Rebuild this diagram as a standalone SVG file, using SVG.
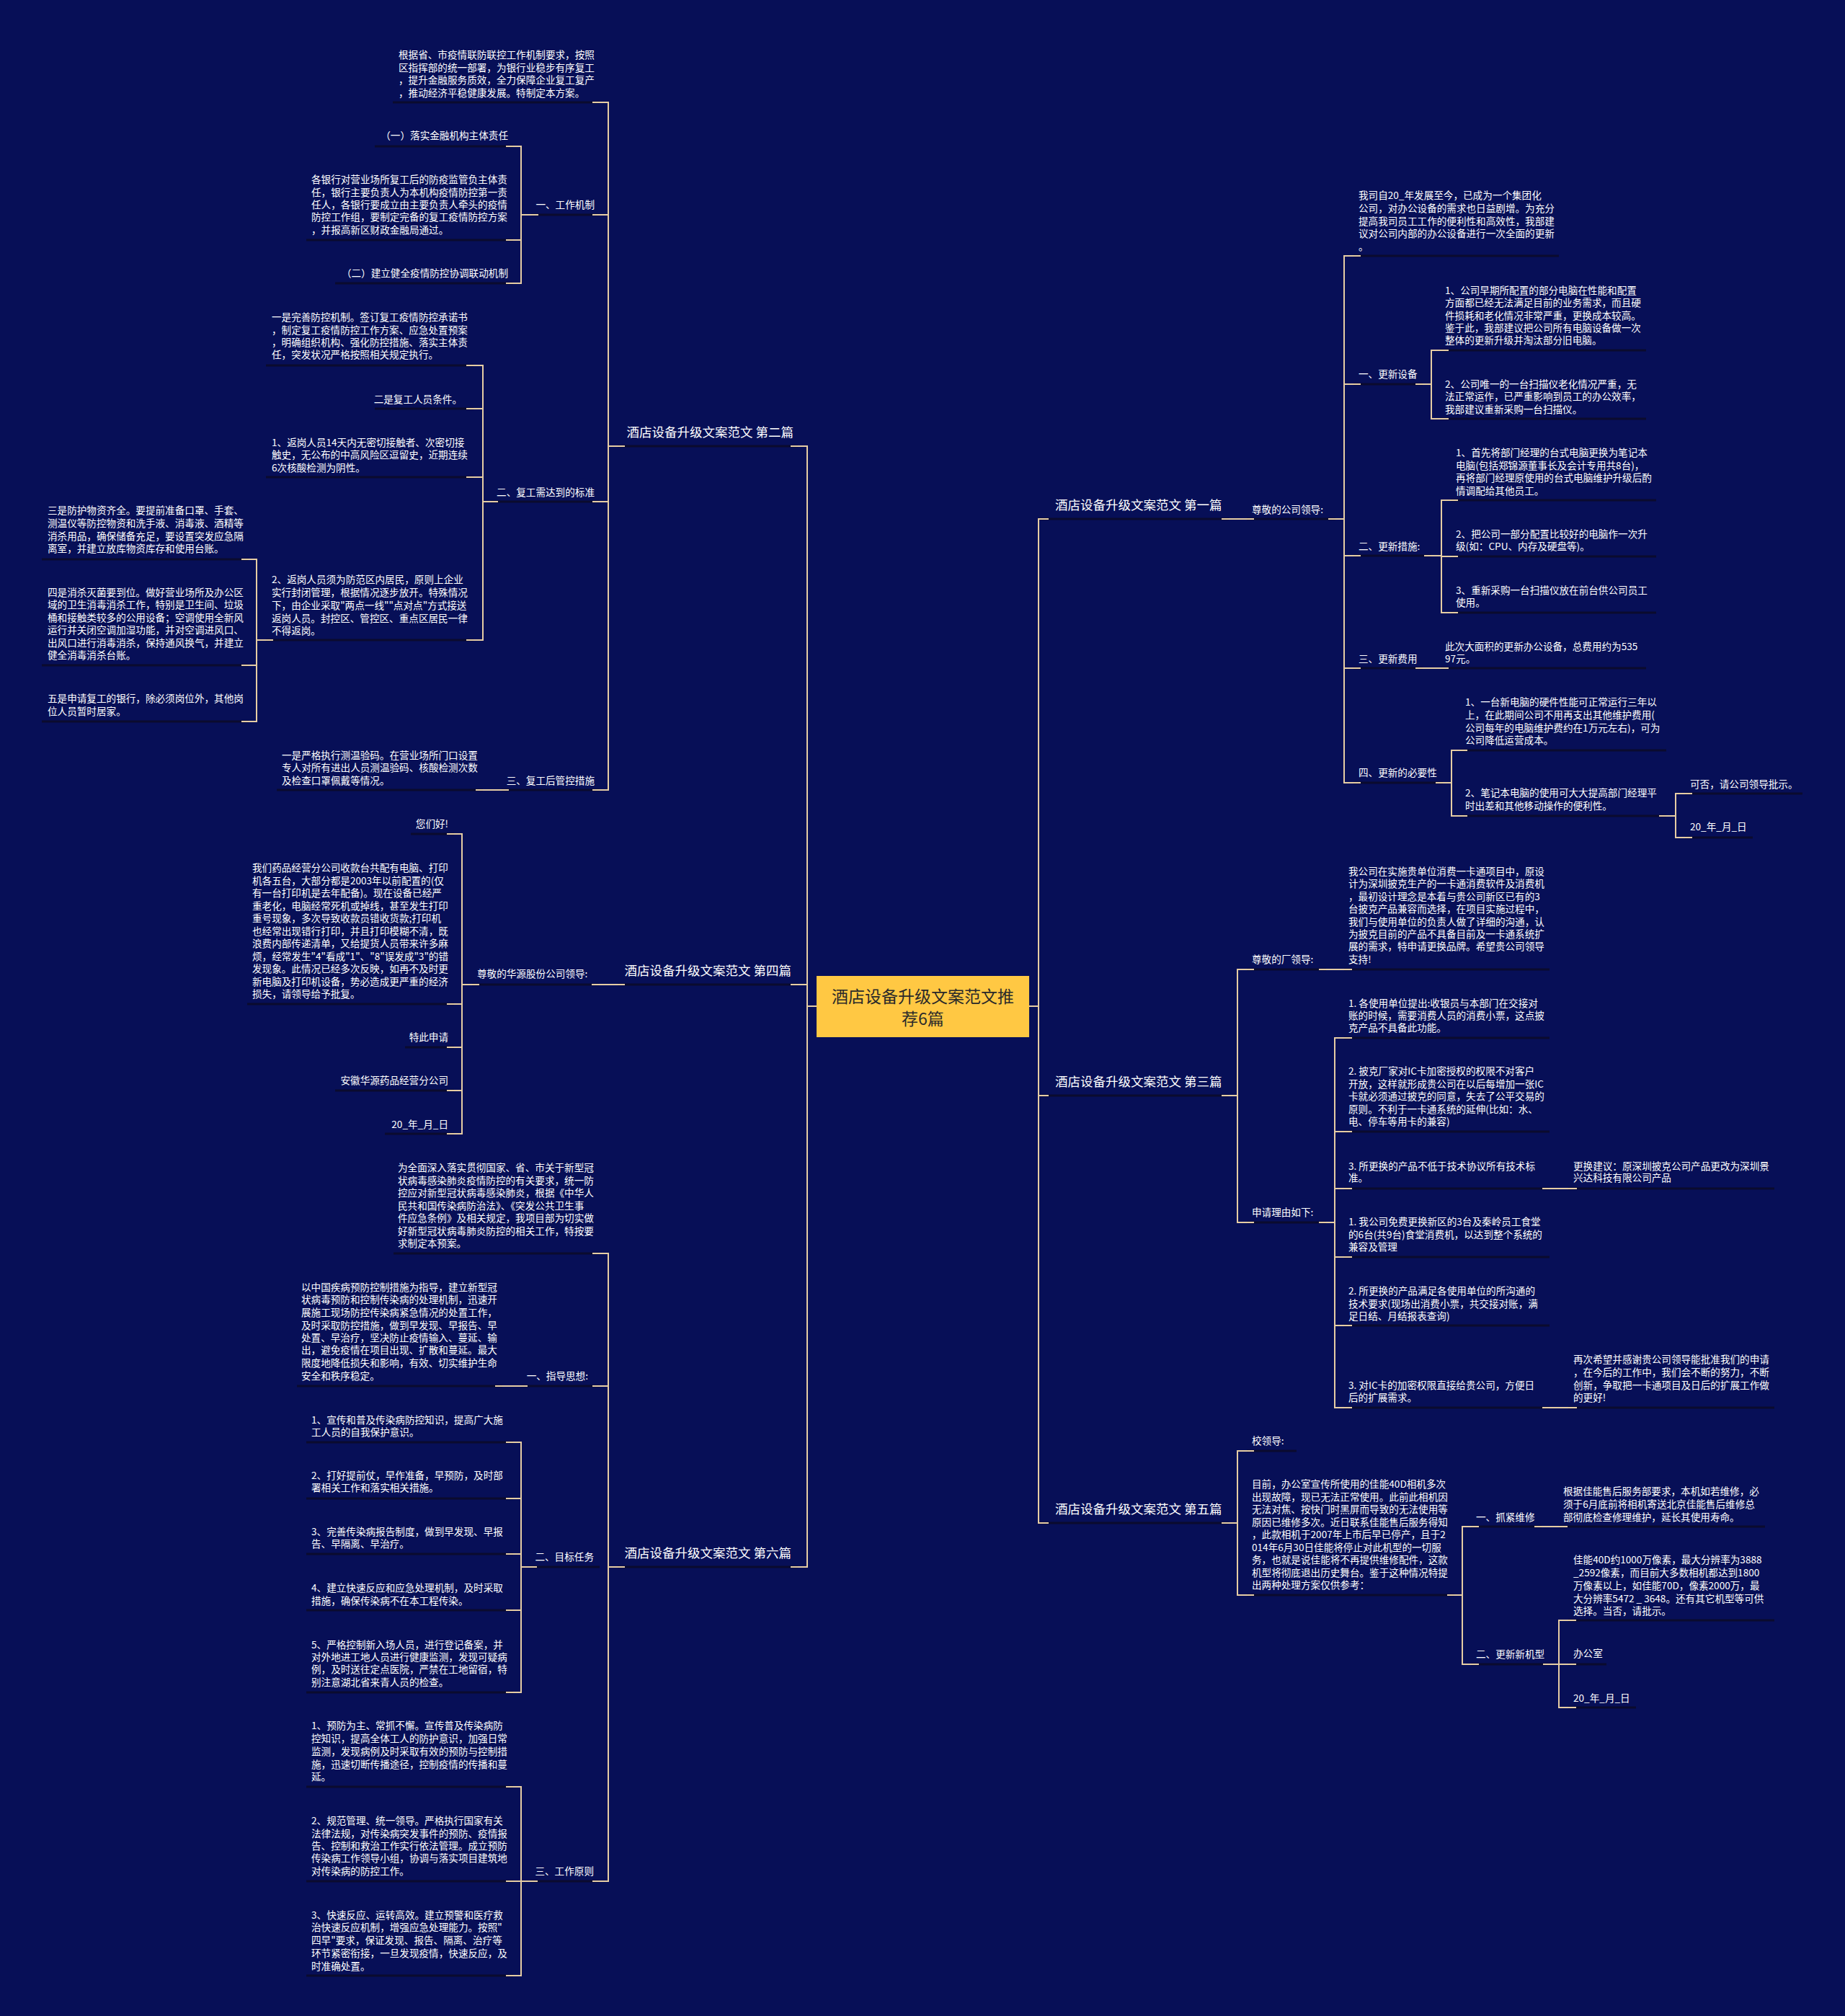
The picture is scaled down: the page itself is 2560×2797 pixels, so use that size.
<svg xmlns="http://www.w3.org/2000/svg" width="2560" height="2797" viewBox="0 0 2560 2797">
<style>
.t{font-family:"Noto Sans CJK SC","Noto Sans",sans-serif;font-size:13.6px;fill:#ffffff;dominant-baseline:central}
.e{text-anchor:end}
.h{font-size:17.5px}
.u{stroke:#0b0b2e;stroke-width:3}
.c{stroke:#e6cda4;stroke-width:2;fill:none}
.ct{font-family:"Noto Sans CJK SC","Noto Sans",sans-serif;font-size:23px;fill:#2a2a2a;text-anchor:middle;dominant-baseline:central}
</style>
<rect width="2560" height="2797" fill="#070f57"/>

<g id="root">
<rect x="1133" y="1354" width="295" height="85" fill="#ffc843"/>
<text class="ct"><tspan x="1280.5" y="1381">酒店设备升级文案范文推</tspan><tspan x="1280.5" y="1412">荐6篇</tspan></text>
</g>

<!-- RIGHT: 第一篇 -->
<g id="r1"><text class="t h" x="1464" y="699">酒店设备升级文案范文 第一篇</text><line class="u" x1="1441" y1="720" x2="1705" y2="720"/></g>
<g id="r1a"><text class="t" x="1737" y="706">尊敬的公司领导:</text><line class="u" x1="1730" y1="720" x2="1853" y2="720"/></g>
<g id="r1a1"><text class="t"><tspan x="1885" y="270">我司自20_年发展至今，已成为一个集团化</tspan><tspan x="1885" y="288">公司，对办公设备的需求也日益剧增。为充分</tspan><tspan x="1885" y="306">提高我司员工工作的便利性和高效性，我部建</tspan><tspan x="1885" y="323">议对公司内部的办公设备进行一次全面的更新</tspan><tspan x="1885" y="341">。</tspan></text><line class="u" x1="1878" y1="355" x2="2163" y2="355"/></g>
<g id="r1a2"><text class="t" x="1885" y="518">一、更新设备</text><line class="u" x1="1878" y1="533" x2="1974" y2="533"/></g>
<g id="r1a2a"><text class="t"><tspan x="2005" y="402">1、公司早期所配置的部分电脑在性能和配置</tspan><tspan x="2005" y="419">方面都已经无法满足目前的业务需求，而且硬</tspan><tspan x="2005" y="437">件损耗和老化情况非常严重，更换成本较高。</tspan><tspan x="2005" y="454">鉴于此，我部建议把公司所有电脑设备做一次</tspan><tspan x="2005" y="471">整体的更新升级并淘汰部分旧电脑。</tspan></text><line class="u" x1="1998" y1="486" x2="2284" y2="486"/></g>
<g id="r1a2b"><text class="t"><tspan x="2005" y="532">2、公司唯一的一台扫描仪老化情况严重，无</tspan><tspan x="2005" y="549">法正常运作，已严重影响到员工的办公效率，</tspan><tspan x="2005" y="567">我部建议重新采购一台扫描仪。</tspan></text><line class="u" x1="1998" y1="581" x2="2284" y2="581"/></g>
<g id="r1a3"><text class="t" x="1885" y="757">二、更新措施:</text><line class="u" x1="1878" y1="771" x2="1986" y2="771"/></g>
<g id="r1a3a"><text class="t"><tspan x="2020" y="627">1、首先将部门经理的台式电脑更换为笔记本</tspan><tspan x="2020" y="645">电脑(包括郑锦源董事长及会计专用共8台)，</tspan><tspan x="2020" y="662">再将部门经理原使用的台式电脑维护升级后酌</tspan><tspan x="2020" y="680">情调配给其他员工。</tspan></text><line class="u" x1="2013" y1="694" x2="2298" y2="694"/></g>
<g id="r1a3b"><text class="t"><tspan x="2020" y="740">2、把公司一部分配置比较好的电脑作一次升</tspan><tspan x="2020" y="757">级(如：CPU、内存及硬盘等)。</tspan></text><line class="u" x1="2013" y1="772" x2="2298" y2="772"/></g>
<g id="r1a3c"><text class="t"><tspan x="2020" y="818">3、重新采购一台扫描仪放在前台供公司员工</tspan><tspan x="2020" y="835">使用。</tspan></text><line class="u" x1="2013" y1="850" x2="2298" y2="850"/></g>
<g id="r1a4"><text class="t" x="1885" y="913">三、更新费用</text><line class="u" x1="1878" y1="927" x2="1974" y2="927"/></g>
<g id="r1a4a"><text class="t"><tspan x="2005" y="896">此次大面积的更新办公设备，总费用约为535</tspan><tspan x="2005" y="913">97元。</tspan></text><line class="u" x1="1999" y1="927" x2="2284" y2="927"/></g>
<g id="r1a5"><text class="t" x="1885" y="1071">四、更新的必要性</text><line class="u" x1="1878" y1="1086" x2="2002" y2="1086"/></g>
<g id="r1a5a"><text class="t"><tspan x="2033" y="973">1、一台新电脑的硬件性能可正常运行三年以</tspan><tspan x="2033" y="991">上，在此期间公司不用再支出其他维护费用(</tspan><tspan x="2033" y="1009">公司每年的电脑维护费约在1万元左右)，可为</tspan><tspan x="2033" y="1026">公司降低运营成本。</tspan></text><line class="u" x1="2026" y1="1041" x2="2312" y2="1041"/></g>
<g id="r1a5b"><text class="t"><tspan x="2033" y="1099">2、笔记本电脑的使用可大大提高部门经理平</tspan><tspan x="2033" y="1117">时出差和其他移动操作的便利性。</tspan></text><line class="u" x1="2026" y1="1132" x2="2312" y2="1132"/></g>
<g id="r1a5b1"><text class="t" x="2345" y="1087">可否，请公司领导批示。</text><line class="u" x1="2338" y1="1101" x2="2501" y2="1101"/></g>
<g id="r1a5b2"><text class="t" x="2345" y="1146">20_年_月_日</text><line class="u" x1="2338" y1="1162" x2="2432" y2="1162"/></g>

<!-- RIGHT: 第三篇 -->
<g id="r3"><text class="t h" x="1464" y="1499">酒店设备升级文案范文 第三篇</text><line class="u" x1="1441" y1="1520" x2="1705" y2="1520"/></g>
<g id="r3a"><text class="t" x="1737" y="1330">尊敬的厂领导:</text><line class="u" x1="1730" y1="1345" x2="1840" y2="1345"/></g>
<g id="r3a1"><text class="t"><tspan x="1871" y="1208">我公司在实施贵单位消费一卡通项目中，原设</tspan><tspan x="1871" y="1225">计为深圳披克生产的一卡通消费软件及消费机</tspan><tspan x="1871" y="1243">，最初设计理念是本着与贵公司新区已有的3</tspan><tspan x="1871" y="1260">台披克产品兼容而选择，在项目实施过程中，</tspan><tspan x="1871" y="1278">我们与使用单位的负责人做了详细的沟通，认</tspan><tspan x="1871" y="1295">为披克目前的产品不具备目前及一卡通系统扩</tspan><tspan x="1871" y="1312">展的需求，特申请更换品牌。希望贵公司领导</tspan><tspan x="1871" y="1330">支持!</tspan></text><line class="u" x1="1865" y1="1345" x2="2150" y2="1345"/></g>
<g id="r3b"><text class="t" x="1737" y="1681">申请理由如下:</text><line class="u" x1="1730" y1="1696" x2="1840" y2="1696"/></g>
<g id="r3b1"><text class="t"><tspan x="1871" y="1391">1. 各使用单位提出:收银员与本部门在交接对</tspan><tspan x="1871" y="1408">账的时候，需要消费人员的消费小票，这点披</tspan><tspan x="1871" y="1425">克产品不具备此功能。</tspan></text><line class="u" x1="1865" y1="1440" x2="2150" y2="1440"/></g>
<g id="r3b2"><text class="t"><tspan x="1871" y="1485">2. 披克厂家对IC卡加密授权的权限不对客户</tspan><tspan x="1871" y="1503">开放，这样就形成贵公司在以后每增加一张IC</tspan><tspan x="1871" y="1520">卡就必须通过披克的同意，失去了公平交易的</tspan><tspan x="1871" y="1538">原则。不利于一卡通系统的延伸(比如：水、</tspan><tspan x="1871" y="1555">电、停车等用卡的兼容)</tspan></text><line class="u" x1="1865" y1="1570" x2="2150" y2="1570"/></g>
<g id="r3b3"><text class="t"><tspan x="1871" y="1617">3. 所更换的产品不低于技术协议所有技术标</tspan><tspan x="1871" y="1633">准。</tspan></text><line class="u" x1="1865" y1="1649" x2="2150" y2="1649"/></g>
<g id="r3b3a"><text class="t"><tspan x="2183" y="1617">更换建议：原深圳披克公司产品更改为深圳景</tspan><tspan x="2183" y="1633">兴达科技有限公司产品</tspan></text><line class="u" x1="2176" y1="1649" x2="2462" y2="1649"/></g>
<g id="r3b4"><text class="t"><tspan x="1871" y="1694">1. 我公司免费更换新区的3台及秦岭员工食堂</tspan><tspan x="1871" y="1712">的6台(共9台)食堂消费机，以达到整个系统的</tspan><tspan x="1871" y="1729">兼容及管理</tspan></text><line class="u" x1="1865" y1="1744" x2="2150" y2="1744"/></g>
<g id="r3b5"><text class="t"><tspan x="1871" y="1790">2. 所更换的产品满足各使用单位的所沟通的</tspan><tspan x="1871" y="1808">技术要求(现场出消费小票，共交接对账，满</tspan><tspan x="1871" y="1825">足日结、月结报表查询)</tspan></text><line class="u" x1="1865" y1="1839" x2="2150" y2="1839"/></g>
<g id="r3b6"><text class="t"><tspan x="1871" y="1921">3. 对IC卡的加密权限直接给贵公司，方便日</tspan><tspan x="1871" y="1938">后的扩展需求。</tspan></text><line class="u" x1="1865" y1="1953" x2="2150" y2="1953"/></g>
<g id="r3b6a"><text class="t"><tspan x="2183" y="1885">再次希望并感谢贵公司领导能批准我们的申请</tspan><tspan x="2183" y="1903">，在今后的工作中，我们会不断的努力，不断</tspan><tspan x="2183" y="1921">创新，争取把一卡通项目及日后的扩展工作做</tspan><tspan x="2183" y="1938">的更好!</tspan></text><line class="u" x1="2176" y1="1953" x2="2462" y2="1953"/></g>

<!-- RIGHT: 第五篇 -->
<g id="r5"><text class="t h" x="1464" y="2092">酒店设备升级文案范文 第五篇</text><line class="u" x1="1441" y1="2113" x2="1705" y2="2113"/></g>
<g id="r5a"><text class="t" x="1737" y="1998">校领导:</text><line class="u" x1="1730" y1="2013" x2="1799" y2="2013"/></g>
<g id="r5b"><text class="t"><tspan x="1737" y="2058">目前，办公室宣传所使用的佳能40D相机多次</tspan><tspan x="1737" y="2076">出现故障，现已无法正常使用。此前此相机因</tspan><tspan x="1737" y="2093">无法对焦、按快门时黑屏而导致的无法使用等</tspan><tspan x="1737" y="2111">原因已维修多次。近日联系佳能售后服务得知</tspan><tspan x="1737" y="2128">，此款相机于2007年上市后早已停产，且于2</tspan><tspan x="1737" y="2146">014年6月30日佳能将停止对此机型的一切服</tspan><tspan x="1737" y="2163">务，也就是说佳能将不再提供维修配件，这款</tspan><tspan x="1737" y="2181">机型将彻底退出历史舞台。鉴于这种情况特提</tspan><tspan x="1737" y="2198">出两种处理方案仅供参考：</tspan></text><line class="u" x1="1730" y1="2213" x2="2018" y2="2213"/></g>
<g id="r5b1"><text class="t" x="2048" y="2104">一、抓紧维修</text><line class="u" x1="2041" y1="2118" x2="2139" y2="2118"/></g>
<g id="r5b1a"><text class="t"><tspan x="2169" y="2068">根据佳能售后服务部要求，本机如若维修，必</tspan><tspan x="2169" y="2086">须于6月底前将相机寄送北京佳能售后维修总</tspan><tspan x="2169" y="2104">部彻底检查修理维护，延长其使用寿命。</tspan></text><line class="u" x1="2163" y1="2118" x2="2449" y2="2118"/></g>
<g id="r5b2"><text class="t" x="2048" y="2294">二、更新新机型</text><line class="u" x1="2041" y1="2309" x2="2151" y2="2309"/></g>
<g id="r5b2a"><text class="t"><tspan x="2183" y="2163">佳能40D约1000万像素，最大分辨率为3888</tspan><tspan x="2183" y="2181">_2592像素，而目前大多数相机都达到1800</tspan><tspan x="2183" y="2199">万像素以上，如佳能70D，像素2000万，最</tspan><tspan x="2183" y="2217">大分辨率5472 _ 3648。还有其它机型等可供</tspan><tspan x="2183" y="2234">选择。当否，请批示。</tspan></text><line class="u" x1="2176" y1="2248" x2="2462" y2="2248"/></g>
<g id="r5b2b"><text class="t" x="2183" y="2293">办公室</text><line class="u" x1="2176" y1="2309" x2="2229" y2="2309"/></g>
<g id="r5b2c"><text class="t" x="2183" y="2355">20_年_月_日</text><line class="u" x1="2176" y1="2369" x2="2270" y2="2369"/></g>

<!-- LEFT: 第二篇 -->
<g id="l2"><text class="t h e" x="1101" y="598">酒店设备升级文案范文 第二篇</text><line class="u" x1="857" y1="619" x2="1107" y2="619"/></g>
<g id="l2a"><text class="t"><tspan x="553" y="75">根据省、市疫情联防联控工作机制要求，按照</tspan><tspan x="553" y="93">区指挥部的统一部署，为银行业稳步有序复工</tspan><tspan x="553" y="110">，提升金融服务质效，全力保障企业复工复产</tspan><tspan x="553" y="128">，推动经济平稳健康发展。特制定本方案。</tspan></text><line class="u" x1="545" y1="142" x2="832" y2="142"/></g>
<g id="l2b"><text class="t e" x="825" y="283">一、工作机制</text><line class="u" x1="737" y1="298" x2="832" y2="298"/></g>
<g id="l2b1"><text class="t e" x="705" y="187">（一）落实金融机构主体责任</text><line class="u" x1="520" y1="203" x2="712" y2="203"/></g>
<g id="l2b2"><text class="t"><tspan x="432" y="248">各银行对营业场所复工后的防疫监管负主体责</tspan><tspan x="432" y="266">任，银行主要负责人为本机构疫情防控第一责</tspan><tspan x="432" y="283">任人，各银行要成立由主要负责人牵头的疫情</tspan><tspan x="432" y="300">防控工作组，要制定完备的复工疫情防控方案</tspan><tspan x="432" y="318">，并报高新区财政金融局通过。</tspan></text><line class="u" x1="425" y1="333" x2="712" y2="333"/></g>
<g id="l2b3"><text class="t e" x="705" y="378">（二）建立健全疫情防控协调联动机制</text><line class="u" x1="465" y1="393" x2="712" y2="393"/></g>
<g id="l2c"><text class="t e" x="825" y="682">二、复工需达到的标准</text><line class="u" x1="681" y1="696" x2="832" y2="696"/></g>
<g id="l2c1"><text class="t"><tspan x="377" y="439">一是完善防控机制。签订复工疫情防控承诺书</tspan><tspan x="377" y="457">，制定复工疫情防控工作方案、应急处置预案</tspan><tspan x="377" y="474">，明确组织机构、强化防控措施、落实主体责</tspan><tspan x="377" y="491">任，突发状况严格按照相关规定执行。</tspan></text><line class="u" x1="369" y1="507" x2="657" y2="507"/></g>
<g id="l2c2"><text class="t e" x="641" y="553">二是复工人员条件。</text><line class="u" x1="520" y1="567" x2="657" y2="567"/></g>
<g id="l2c3"><text class="t"><tspan x="377" y="613">1、返岗人员14天内无密切接触者、次密切接</tspan><tspan x="377" y="630">触史，无公布的中高风险区逗留史，近期连续</tspan><tspan x="377" y="648">6次核酸检测为阴性。</tspan></text><line class="u" x1="369" y1="662" x2="657" y2="662"/></g>
<g id="l2c4"><text class="t"><tspan x="377" y="803">2、返岗人员须为防范区内居民，原则上企业</tspan><tspan x="377" y="821">实行封闭管理，根据情况逐步放开。特殊情况</tspan><tspan x="377" y="839">下，由企业采取"两点一线""点对点"方式接送</tspan><tspan x="377" y="857">返岗人员。封控区、管控区、重点区居民一律</tspan><tspan x="377" y="874">不得返岗。</tspan></text><line class="u" x1="369" y1="888" x2="657" y2="888"/></g>
<g id="l2c4a"><text class="t"><tspan x="66" y="707">三是防护物资齐全。要提前准备口罩、手套、</tspan><tspan x="66" y="725">测温仪等防控物资和洗手液、消毒液、酒精等</tspan><tspan x="66" y="743">消杀用品，确保储备充足，要设置突发应急隔</tspan><tspan x="66" y="760">离室，并建立放库物资库存和使用台账。</tspan></text><line class="u" x1="58" y1="776" x2="345" y2="776"/></g>
<g id="l2c4b"><text class="t"><tspan x="66" y="821">四是消杀灭菌要到位。做好营业场所及办公区</tspan><tspan x="66" y="838">域的卫生消毒消杀工作，特别是卫生间、垃圾</tspan><tspan x="66" y="856">桶和接触类较多的公用设备；空调使用全新风</tspan><tspan x="66" y="873">运行并关闭空调加湿功能，并对空调进风口、</tspan><tspan x="66" y="891">出风口进行消毒消杀，保持通风换气，并建立</tspan><tspan x="66" y="908">健全消毒消杀台账。</tspan></text><line class="u" x1="58" y1="923" x2="345" y2="923"/></g>
<g id="l2c4c"><text class="t"><tspan x="66" y="968">五是申请复工的银行，除必须岗位外，其他岗</tspan><tspan x="66" y="986">位人员暂时居家。</tspan></text><line class="u" x1="58" y1="1001" x2="345" y2="1001"/></g>
<g id="l2d"><text class="t e" x="825" y="1082">三、复工后管控措施</text><line class="u" x1="696" y1="1096" x2="832" y2="1096"/></g>
<g id="l2d1"><text class="t"><tspan x="391" y="1047">一是严格执行测温验码。在营业场所门口设置</tspan><tspan x="391" y="1064">专人对所有进出人员测温验码、核酸检测次数</tspan><tspan x="391" y="1082">及检查口罩佩戴等情况。</tspan></text><line class="u" x1="384" y1="1096" x2="670" y2="1096"/></g>

<!-- LEFT: 第四篇 -->
<g id="l4"><text class="t h e" x="1098" y="1345">酒店设备升级文案范文 第四篇</text><line class="u" x1="857" y1="1366" x2="1108" y2="1366"/></g>
<g id="l4a"><text class="t" x="662" y="1350">尊敬的华源股份公司领导:</text><line class="u" x1="655" y1="1366" x2="831" y2="1366"/></g>
<g id="l4a1"><text class="t e" x="622" y="1142">您们好!</text><line class="u" x1="570" y1="1157" x2="630" y2="1157"/></g>
<g id="l4a2"><text class="t"><tspan x="350" y="1203">我们药品经营分公司收款台共配有电脑、打印</tspan><tspan x="350" y="1221">机各五台，大部分都是2003年以前配置的(仅</tspan><tspan x="350" y="1238">有一台打印机是去年配备)。现在设备已经严</tspan><tspan x="350" y="1256">重老化，电脑经常死机或掉线，甚至发生打印</tspan><tspan x="350" y="1273">重号现象，多次导致收款员错收货款;打印机</tspan><tspan x="350" y="1291">也经常出现错行打印，并且打印模糊不清，既</tspan><tspan x="350" y="1308">浪费内部传递清单，又给提货人员带来许多麻</tspan><tspan x="350" y="1326">烦，经常发生"4"看成"1"、"8"误发成"3"的错</tspan><tspan x="350" y="1343">发现象。此情况已经多次反映，如再不及时更</tspan><tspan x="350" y="1361">新电脑及打印机设备，势必造成更严重的经济</tspan><tspan x="350" y="1378">损失，请领导给予批复。</tspan></text><line class="u" x1="343" y1="1393" x2="630" y2="1393"/></g>
<g id="l4a3"><text class="t e" x="622" y="1438">特此申请</text><line class="u" x1="562" y1="1453" x2="630" y2="1453"/></g>
<g id="l4a4"><text class="t e" x="622" y="1498">安徽华源药品经营分公司</text><line class="u" x1="465" y1="1513" x2="630" y2="1513"/></g>
<g id="l4a5"><text class="t e" x="622" y="1559">20_年_月_日</text><line class="u" x1="534" y1="1573" x2="630" y2="1573"/></g>

<!-- LEFT: 第六篇 -->
<g id="l6"><text class="t h e" x="1098" y="2153">酒店设备升级文案范文 第六篇</text><line class="u" x1="857" y1="2174" x2="1107" y2="2174"/></g>
<g id="l6a"><text class="t"><tspan x="552" y="1619">为全面深入落实贯彻国家、省、市关于新型冠</tspan><tspan x="552" y="1637">状病毒感染肺炎疫情防控的有关要求，统一防</tspan><tspan x="552" y="1654">控应对新型冠状病毒感染肺炎，根据《中华人</tspan><tspan x="552" y="1672">民共和国传染病防治法》、《突发公共卫生事</tspan><tspan x="552" y="1689">件应急条例》及相关规定，我项目部为切实做</tspan><tspan x="552" y="1707">好新型冠状病毒肺炎防控的相关工作，特按要</tspan><tspan x="552" y="1724">求制定本预案。</tspan></text><line class="u" x1="546" y1="1739" x2="832" y2="1739"/></g>
<g id="l6b"><text class="t e" x="816" y="1908">一、指导思想:</text><line class="u" x1="722" y1="1923" x2="832" y2="1923"/></g>
<g id="l6b1"><text class="t"><tspan x="418" y="1785">以中国疾病预防控制措施为指导，建立新型冠</tspan><tspan x="418" y="1802">状病毒预防和控制传染病的处理机制，迅速开</tspan><tspan x="418" y="1820">展施工现场防控传染病紧急情况的处置工作，</tspan><tspan x="418" y="1838">及时采取防控措施，做到早发现、早报告、早</tspan><tspan x="418" y="1855">处置、早治疗，坚决防止疫情输入、蔓延、输</tspan><tspan x="418" y="1872">出，避免疫情在项目出现、扩散和蔓延。最大</tspan><tspan x="418" y="1890">限度地降低损失和影响，有效、切实维护生命</tspan><tspan x="418" y="1908">安全和秩序稳定。</tspan></text><line class="u" x1="412" y1="1923" x2="697" y2="1923"/></g>
<g id="l6c"><text class="t e" x="824" y="2159">二、目标任务</text><line class="u" x1="735" y1="2174" x2="832" y2="2174"/></g>
<g id="l6c1"><text class="t"><tspan x="432" y="1969">1、宣传和普及传染病防控知识，提高广大施</tspan><tspan x="432" y="1986">工人员的自我保护意识。</tspan></text><line class="u" x1="425" y1="2001" x2="712" y2="2001"/></g>
<g id="l6c2"><text class="t"><tspan x="432" y="2046">2、打好提前仗，早作准备，早预防，及时部</tspan><tspan x="432" y="2063">署相关工作和落实相关措施。</tspan></text><line class="u" x1="425" y1="2079" x2="712" y2="2079"/></g>
<g id="l6c3"><text class="t"><tspan x="432" y="2124">3、完善传染病报告制度，做到早发现、早报</tspan><tspan x="432" y="2141">告、早隔离、早治疗。</tspan></text><line class="u" x1="425" y1="2156" x2="712" y2="2156"/></g>
<g id="l6c4"><text class="t"><tspan x="432" y="2202">4、建立快速反应和应急处理机制，及时采取</tspan><tspan x="432" y="2220">措施，确保传染病不在本工程传染。</tspan></text><line class="u" x1="425" y1="2234" x2="712" y2="2234"/></g>
<g id="l6c5"><text class="t"><tspan x="432" y="2281">5、严格控制新入场人员，进行登记备案，并</tspan><tspan x="432" y="2298">对外地进工地人员进行健康监测，发现可疑病</tspan><tspan x="432" y="2315">例，及时送往定点医院，严禁在工地留宿，特</tspan><tspan x="432" y="2333">别注意湖北省来青人员的检查。</tspan></text><line class="u" x1="425" y1="2348" x2="712" y2="2348"/></g>
<g id="l6d"><text class="t e" x="824" y="2595">三、工作原则</text><line class="u" x1="736" y1="2610" x2="832" y2="2610"/></g>
<g id="l6d1"><text class="t"><tspan x="432" y="2393">1、预防为主、常抓不懈。宣传普及传染病防</tspan><tspan x="432" y="2411">控知识，提高全体工人的防护意识，加强日常</tspan><tspan x="432" y="2429">监测，发现病例及时采取有效的预防与控制措</tspan><tspan x="432" y="2447">施，迅速切断传播途径，控制疫情的传播和蔓</tspan><tspan x="432" y="2464">延。</tspan></text><line class="u" x1="425" y1="2479" x2="712" y2="2479"/></g>
<g id="l6d2"><text class="t"><tspan x="432" y="2525">2、规范管理、统一领导。严格执行国家有关</tspan><tspan x="432" y="2543">法律法规，对传染病突发事件的预防、疫情报</tspan><tspan x="432" y="2560">告、控制和救治工作实行依法管理。成立预防</tspan><tspan x="432" y="2577">传染病工作领导小组，协调与落实项目建筑地</tspan><tspan x="432" y="2595">对传染病的防控工作。</tspan></text><line class="u" x1="425" y1="2610" x2="712" y2="2610"/></g>
<g id="l6d3"><text class="t"><tspan x="432" y="2656">3、快速反应、运转高效。建立预警和医疗救</tspan><tspan x="432" y="2673">治快速反应机制，增强应急处理能力。按照"</tspan><tspan x="432" y="2691">四早"要求，保证发现、报告、隔离、治疗等</tspan><tspan x="432" y="2709">环节紧密衔接，一旦发现疫情，快速反应，及</tspan><tspan x="432" y="2727">时准确处置。</tspan></text><line class="u" x1="425" y1="2741" x2="712" y2="2741"/></g>

<g id="connectors" class="c">
<!-- right -->
<path d="M1428,1396 H1441 M1455,720 H1441 V2113 H1455 M1441,1520 H1455"/>
<path d="M1695,720 H1740"/>
<path d="M1843,720 H1865 M1888,355 H1865 V1086 H1888 M1865,533 H1888 M1865,771 H1888 M1865,927 H1888"/>
<path d="M1964,533 H1986 M2010,486 H1986 V581 H2010"/>
<path d="M1976,771 H2000 M2023,694 H2000 V850 H2023 M2000,772 H2023"/>
<path d="M1964,927 H2010"/>
<path d="M1992,1086 H2014 M2036,1041 H2014 V1132 H2036"/>
<path d="M2302,1132 H2325 M2348,1101 H2325 V1162 H2348"/>
<path d="M1695,1520 H1717 M1740,1345 H1717 V1696 H1740"/>
<path d="M1830,1345 H1876"/>
<path d="M1830,1696 H1852 M1876,1440 H1852 V1953 H1876 M1852,1570 H1876 M1852,1649 H1876 M1852,1744 H1876 M1852,1839 H1876"/>
<path d="M2140,1649 H2188 M2140,1953 H2188"/>
<path d="M1695,2113 H1717 M1740,2013 H1717 V2213 H1740"/>
<path d="M2008,2213 H2029 M2052,2118 H2029 V2309 H2052"/>
<path d="M2129,2118 H2175"/>
<path d="M2141,2309 H2163 M2187,2248 H2163 V2369 H2187 M2163,2309 H2187"/>
<!-- left -->
<path d="M1133,1396 H1120 M1097,619 H1120 V2174 H1097 M1120,1366 H1097"/>
<path d="M867,619 H844 M822,142 H844 V1096 H822 M844,298 H822 M844,696 H822"/>
<path d="M747,298 H723 M702,203 H723 V393 H702 M723,333 H702"/>
<path d="M691,696 H670 M647,507 H670 V888 H647 M670,567 H647 M670,662 H647"/>
<path d="M379,888 H356 M335,776 H356 V1001 H335 M356,923 H335"/>
<path d="M706,1096 H660"/>
<path d="M867,1366 H821"/>
<path d="M665,1366 H641 M620,1157 H641 V1573 H620 M641,1393 H620 M641,1453 H620 M641,1513 H620"/>
<path d="M867,2174 H844 M822,1739 H844 V2610 H822 M844,1923 H822"/>
<path d="M732,1923 H687"/>
<path d="M745,2174 H723 M702,2001 H723 V2348 H702 M723,2079 H702 M723,2156 H702 M723,2234 H702"/>
<path d="M746,2610 H723 M702,2479 H723 V2741 H702 M723,2610 H702"/>
</g>
</svg>
